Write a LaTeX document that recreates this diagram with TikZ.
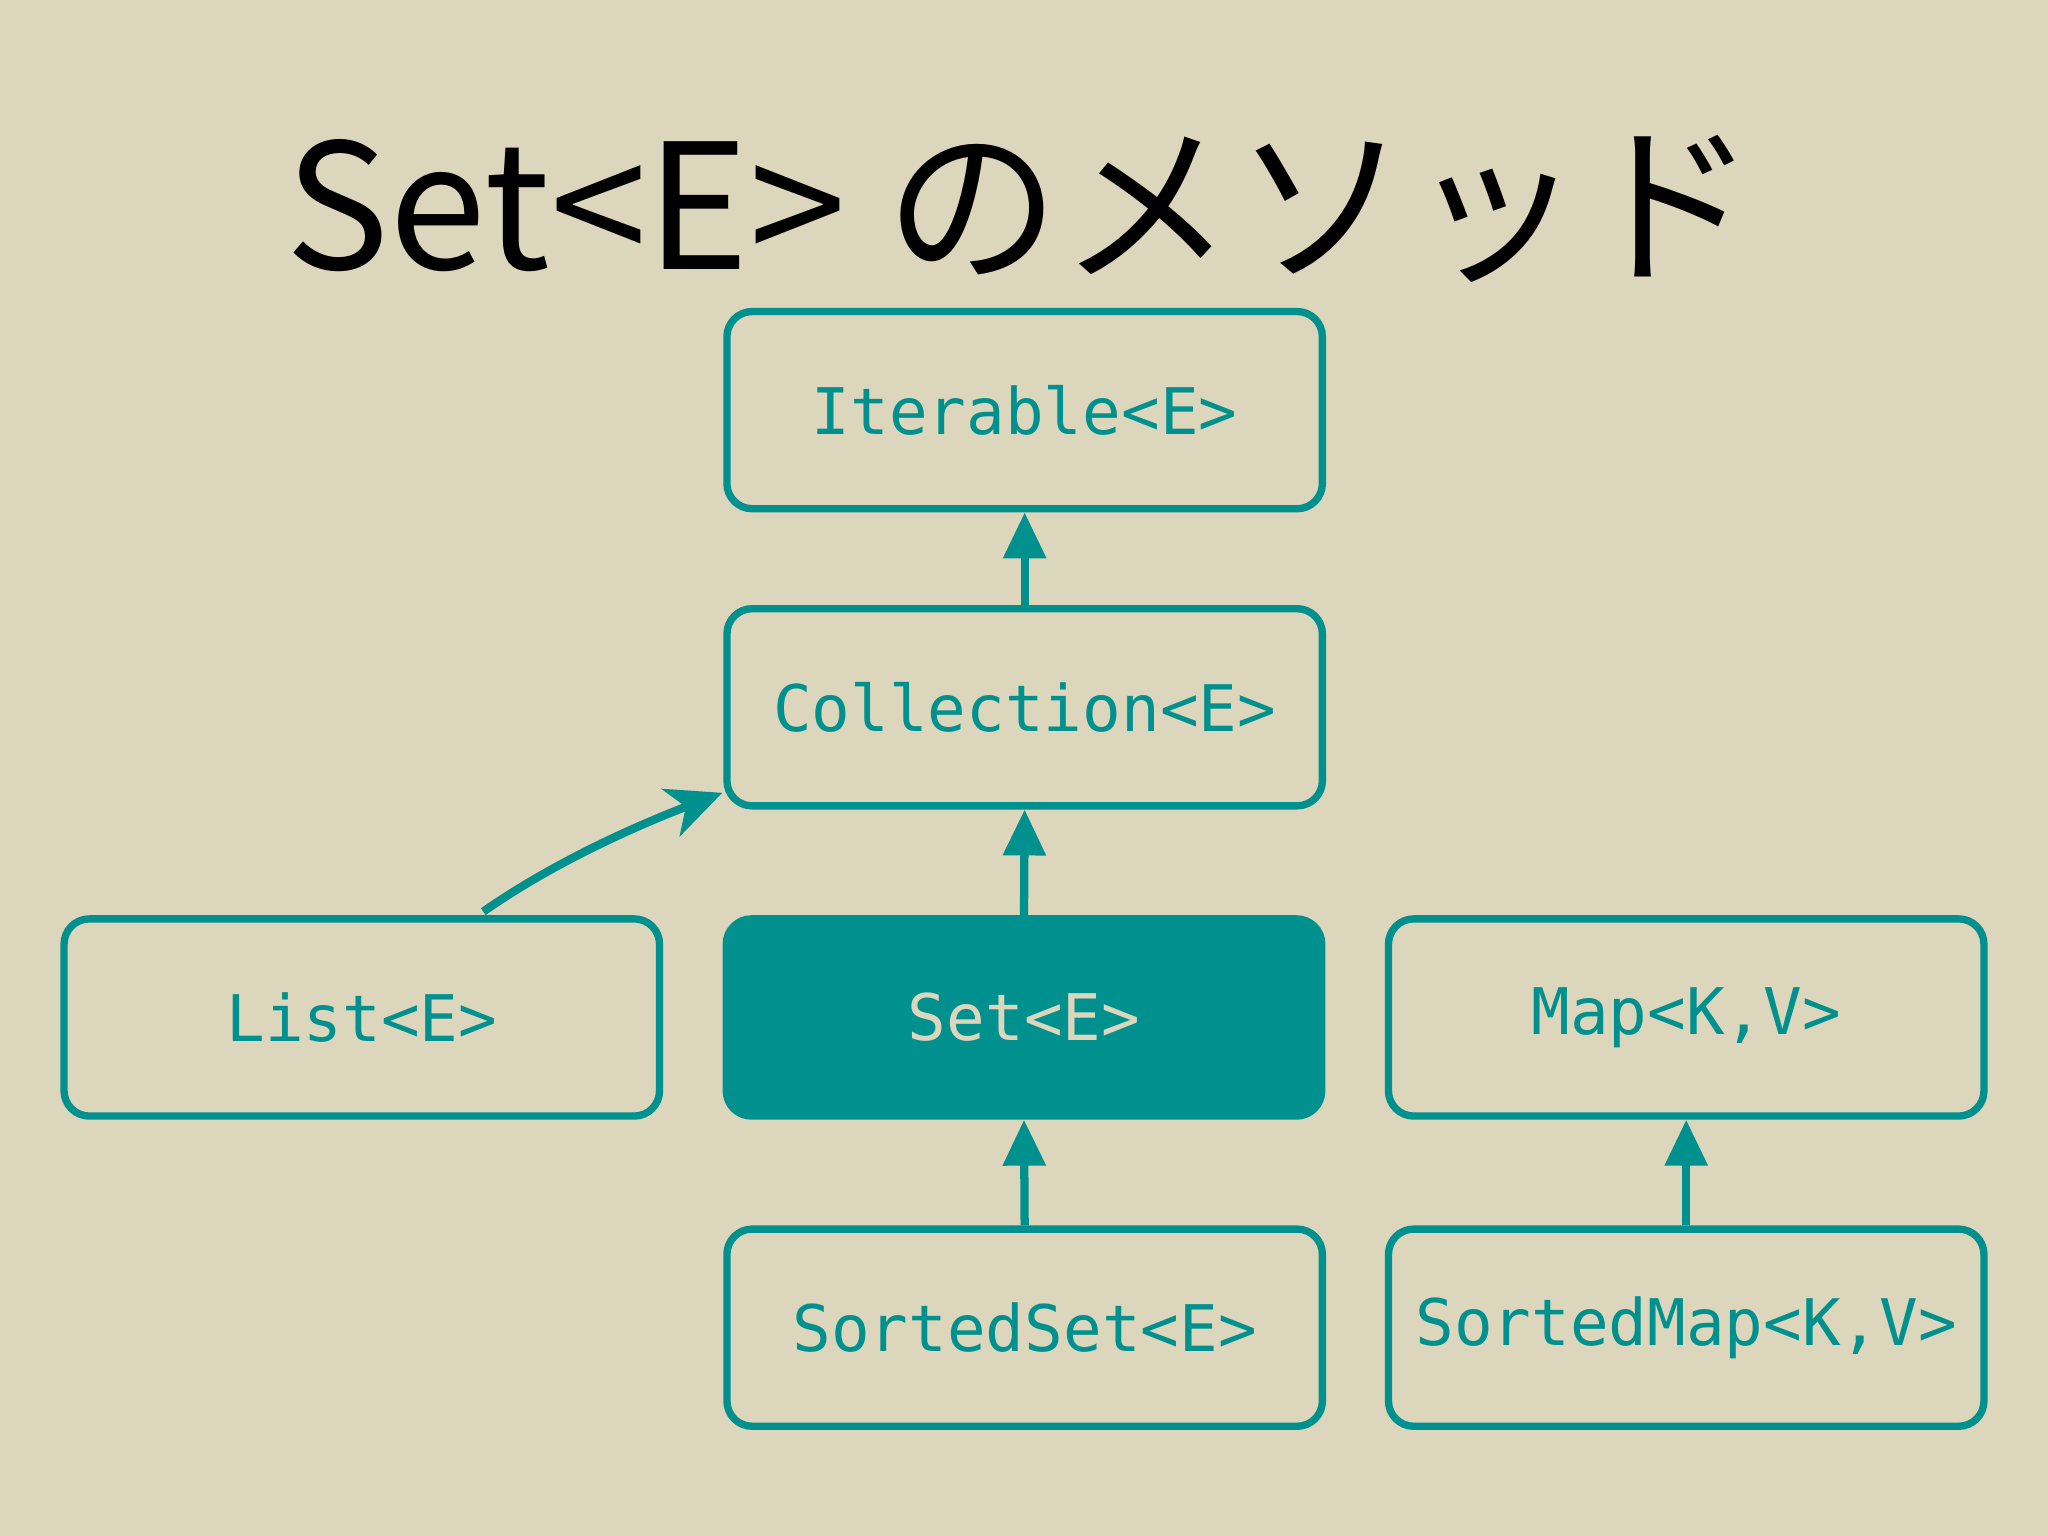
\documentclass[tikz,border=0pt]{standalone}
\usepackage{fontspec}
\newfontfamily\cjk{Noto Sans CJK JP}
\newfontfamily\mono{DejaVu Sans Mono}
\usetikzlibrary{arrows.meta}
\definecolor{bg}{HTML}{DCD6BC}
\definecolor{teal1}{HTML}{00918F}
\begin{document}
\begin{tikzpicture}[x=0.02cm,y=-0.02cm,
  box/.style={draw=teal1,line width=3.2pt,rounded corners=11pt,minimum width=9.12cm,minimum height=3.02cm,text=teal1,font=\mono\fontsize{28}{30}\selectfont,inner sep=0pt},
  arr/.style={draw=teal1,line width=3.6pt,-{Triangle[length=20pt,width=18pt]}}]
\fill[bg] (0,0) rectangle (1568,1176);
\node[font=\cjk\fontsize{76}{84}\selectfont,anchor=center] (title) at (782,160) {Set<E>\ のメソッド};
\node[box] (it) at (784.5,314) {Iterable<E>};
\node[box] (col) at (784.5,541.5) {Collection<E>};
\node[box] (list) at (277,779) {List<E>};
\node[box,fill=teal1,text=bg] (set) at (784,779) {Set<E>};
\node[box] (map) at (1291,779) {Map<K,V>};
\node[box] (ss) at (784.5,1016.5) {SortedSet<E>};
\node[box] (sm) at (1291,1016.5) {SortedMap<K,V>};
\draw[arr] (col.north) -- (it.south);
\draw[arr] (set.north) -- (col.south);
\draw[arr] (ss.north) -- (set.south);
\draw[arr] (sm.north) -- (map.south);
\coordinate (ls) at (370,698);
\coordinate (le) at (553,607);
\draw[draw=teal1,line width=3.6pt,-{Stealth[length=24pt,width=22pt,inset=7pt]}] (ls) .. controls (420,663) and (480,635) .. (le);
\end{tikzpicture}
\end{document}
